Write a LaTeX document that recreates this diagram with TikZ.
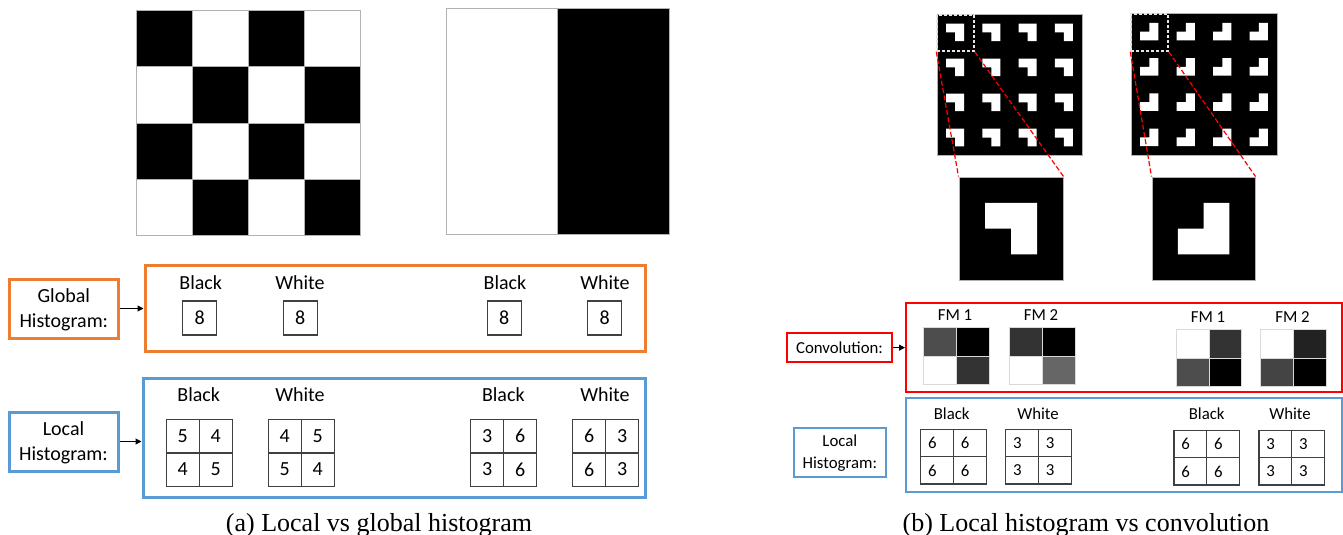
\documentclass[tikz,border=0pt]{standalone}
\usepackage{fontspec}
\setmainfont{Carlito}
\newfontfamily\capfont{Liberation Serif}
\usetikzlibrary{fit,arrows.meta}
\definecolor{orng}{HTML}{ED7D31}
\definecolor{blu}{HTML}{5B9BD5}
\definecolor{redc}{HTML}{FF0000}
\definecolor{gA}{HTML}{4D4D4D}
\definecolor{gB}{HTML}{333333}
\definecolor{gC}{HTML}{666666}
\definecolor{gD}{HTML}{222222}
\definecolor{gE}{HTML}{444444}
\def\cw{33}\def\ch{33.3}
\newcommand\hgrid[8]{%
 \node[cellbox,#8,anchor=north west] (#1-1) at (#2,#3) {#4};
 \node[cellbox,#8,anchor=north west] (#1-2) at ({#2+\cw},#3) {#5};
 \node[cellbox,#8,anchor=north west] (#1-3) at (#2,{#3+\ch}) {#6};
 \node[cellbox,#8,anchor=north west] (#1-4) at ({#2+\cw},{#3+\ch}) {#7};}
\newcommand\fmgrid[7]{%
 \node[fmcell,fill=#4,anchor=north west] (#1-1) at (#2,#3) {};
 \node[fmcell,fill=#5,anchor=north west] (#1-2) at ({#2+\cw},#3) {};
 \node[fmcell,fill=#6,anchor=north west] (#1-3) at (#2,{#3+\ch}) {};
 \node[fmcell,fill=#7,anchor=north west] (#1-4) at ({#2+\cw},{#3+\ch}) {};}
\newcommand\tileA[4]{\fill[white] ({#1+.25*#3},{#2+.25*#4}) rectangle ({#1+.75*#3},{#2+.5*#4}) ({#1+.5*#3},{#2+.25*#4}) rectangle ({#1+.75*#3},{#2+.75*#4});}
\newcommand\tileB[4]{\fill[white] ({#1+.5*#3},{#2+.25*#4}) rectangle ({#1+.75*#3},{#2+.75*#4}) ({#1+.25*#3},{#2+.5*#4}) rectangle ({#1+.75*#3},{#2+.75*#4});}
\begin{document}
\begin{tikzpicture}[x=0.5pt,y=-0.5pt,
  lab/.style={font=\fontsize{10}{12.5}\selectfont, inner sep=0},
  labr/.style={font=\fontsize{8.4}{10.7}\selectfont, inner sep=0},
  obox/.style={draw=orng, line width=1.5pt, inner sep=0},
  bbox/.style={draw=blu, line width=1.5pt, inner sep=0},
  rbox/.style={draw=redc, line width=1pt, inner sep=0},
  bboxr/.style={draw=blu, line width=1pt, inner sep=0},
  cellbox/.style={draw=black!75, line width=0.6pt, inner sep=0, minimum width=\cw*0.5pt, minimum height=\ch*0.5pt},
  fmcell/.style={draw=gray!30, line width=0.4pt, inner sep=0, minimum width=\cw*0.5pt, minimum height=\ch*0.5pt},
  leftnum/.style={font=\fontsize{10}{12}\selectfont},
  rightnum/.style={font=\fontsize{8.4}{10}\selectfont, text width=\cw*0.5pt-7.5pt, align=left},
  numbox/.style={draw=black!75, line width=0.6pt, inner sep=0, minimum size=17pt, font=\fontsize{10}{12}\selectfont},
  arr/.style={-{Triangle[length=3pt,width=3pt]}, line width=0.5pt},
  cbline/.style={draw=gray!60, line width=0.5pt},
  redline/.style={draw=redc, line width=0.6pt, dash pattern=on 2.5pt off 1.2pt},
  selbox/.style={draw=gray!20, line width=0.75pt, dash pattern=on 1.5pt off 1pt, inner sep=0},
  captxt/.style={font=\capfont\fontsize{13}{15}\selectfont, inner sep=0, anchor=base}]
\useasboundingbox (0,0) rectangle (1343,535);

% ---------- (a) images ----------
\foreach \r in {0,...,3}{\foreach \c in {0,...,3}{
  \pgfmathtruncatemacro\p{mod(\r+\c,2)}
  \ifnum\p=0 \fill[black] ({136+\c*56.2},{10.7+\r*56.25}) rectangle +(56.2,56.25);\fi
}}
\foreach \k in {0,...,4}{
  \draw[cbline] ({136+\k*56.2},10.7) -- ++(0,225);
  \draw[cbline] (136,{10.7+\k*56.25}) -- ++(224.8,0);
}
\fill[black] (557,9) rectangle (669,234);
\draw[cbline] (446,9) rectangle (669,234);
\draw[cbline] (557,9) -- (557,234);

% ---------- (a) global ----------
\node[obox, fit={(145,265.7) (645,351)}] (G) {};
\node[obox, fit={(9.3,279) (118.3,338)}] (gl) {};
\node[lab, align=center] (glt) at ([yshift=-0.6pt]gl.center) {Global\\Histogram:};
\draw[arr] (gl.east) -- (gl.east -| G.west);
\node[lab, anchor=base] (gb1) at (200.7,289.3) {Black};
\node[lab, anchor=base] (gw1) at (300,289.3) {White};
\node[lab, anchor=base] (gb2) at (505,289.3) {Black};
\node[lab, anchor=base] (gw2) at (605,289.3) {White};
\node[numbox] (n1) at (199.7,318) {8};
\node[numbox] (n2) at (300.3,318) {8};
\node[numbox] (n3) at (504.2,318) {8};
\node[numbox] (n4) at (604.8,318) {8};

% ---------- (a) local ----------
\node[bbox, fit={(143,378) (645,497)}] (L) {};
\node[bbox, fit={(9,412) (118,471)}] (ll) {};
\node[lab, align=center] (llt) at ([yshift=-0.8pt]ll.center) {Local\\Histogram:};
\draw[arr] (ll.east) -- (ll.east -| L.west);
\node[lab, anchor=base] (lb1) at (198.7,401.7) {Black};
\node[lab, anchor=base] (lw1) at (300,401.7) {White};
\node[lab, anchor=base] (lb2) at (503.3,401.7) {Black};
\node[lab, anchor=base] (lw2) at (605,401.7) {White};
\hgrid{ga}{165.7}{419}{5}{4}{4}{5}{leftnum}
\hgrid{gb}{267.7}{419}{4}{5}{5}{4}{leftnum}
\hgrid{gc}{470}{419}{3}{6}{3}{6}{leftnum}
\hgrid{gd}{572}{419}{6}{3}{6}{3}{leftnum}

\node[captxt] (capa) at (379,531) {(a) Local vs global histogram};

% ---------- (b) patterns ----------
\fill[black] (937,15) rectangle (1082,155);
\foreach \i in {0,...,3}{\foreach \j in {0,...,3}{\tileA{937+\i*36.25}{15+\j*35}{36.25}{35}}}
\draw[cbline] (937,15) rectangle (1082,155);
\fill[black] (1131,14) rectangle (1277,155);
\foreach \i in {0,...,3}{\foreach \j in {0,...,3}{\tileB{1131+\i*36.5}{14+\j*35.25}{36.5}{35.25}}}
\draw[cbline] (1131,14) rectangle (1277,155);

\node[fill=black, draw=gray!60, line width=0.5pt, inner sep=0, fit={(959,177) (1063,280)}] (zA) {};
\tileA{959}{177}{104}{103}
\node[fill=black, draw=gray!60, line width=0.5pt, inner sep=0, fit={(1152,177) (1255,280)}] (zB) {};
\tileB{1152}{177}{103}{103}

\node[selbox, fit={(937,15) (974,51)}] (sA) {};
\node[selbox, fit={(1131,14) (1168,51)}] (sB) {};
\draw[redline] (sA.south west) -- (zA.north west);
\draw[redline] (sA.south east) -- (zA.north east);
\draw[redline] (sB.south west) -- (zB.north west);
\draw[redline] (sB.south east) -- (zB.north east);

% ---------- (b) convolution ----------
\def\cw{32.8}\def\ch{28.5}
\node[rbox, fit={(906,303.3) (1341.7,392)}] (R) {};
\node[rbox, fit={(786.7,333.3) (892.3,362)}] (cv) {};
\node[labr] (cvt) at (cv.center) {Convolution:};
\draw[arr] (cv.east) -- (cv.east -| R.west);
\node[labr, anchor=base] (f1) at (955,320.7) {FM 1};
\node[labr, anchor=base] (f2) at (1041,320.7) {FM 2};
\node[labr, anchor=base] (f3) at (1208,322) {FM 1};
\node[labr, anchor=base] (f4) at (1292.5,322) {FM 2};
\fmgrid{fa}{923.3}{327.3}{gA}{black}{white}{gB}
\fmgrid{fb}{1009.3}{327.3}{gB}{black}{white}{gC}
\fmgrid{fc}{1175.7}{329}{white}{gB}{gA}{black}
\fmgrid{fd}{1260}{329}{white}{gD}{gE}{black}

% ---------- (b) local ----------
\def\ch{27.2}
\node[bboxr, fit={(906,398.3) (1341.7,492.3)}] (LR) {};
\node[bboxr, fit={(794,427.7) (885.7,476.7)}] (llr) {};
\node[labr, align=center] (llrt) at ([yshift=-0.5pt]llr.center) {Local\\Histogram:};
\node[labr, anchor=base] (rb1) at (951.7,419) {Black};
\node[labr, anchor=base] (rw1) at (1038,419) {White};
\node[labr, anchor=base] (rb2) at (1206.7,419) {Black};
\node[labr, anchor=base] (rw2) at (1290,419) {White};
\hgrid{ha}{920}{429}{6}{6}{6}{6}{rightnum}
\hgrid{hb}{1005}{429}{3}{3}{3}{3}{rightnum}
\hgrid{hc}{1173.3}{430}{6}{6}{6}{6}{rightnum}
\hgrid{hd}{1258.3}{430}{3}{3}{3}{3}{rightnum}

\node[captxt] (capb) at (1086,531) {(b) Local histogram vs convolution};
\end{tikzpicture}
\end{document}
